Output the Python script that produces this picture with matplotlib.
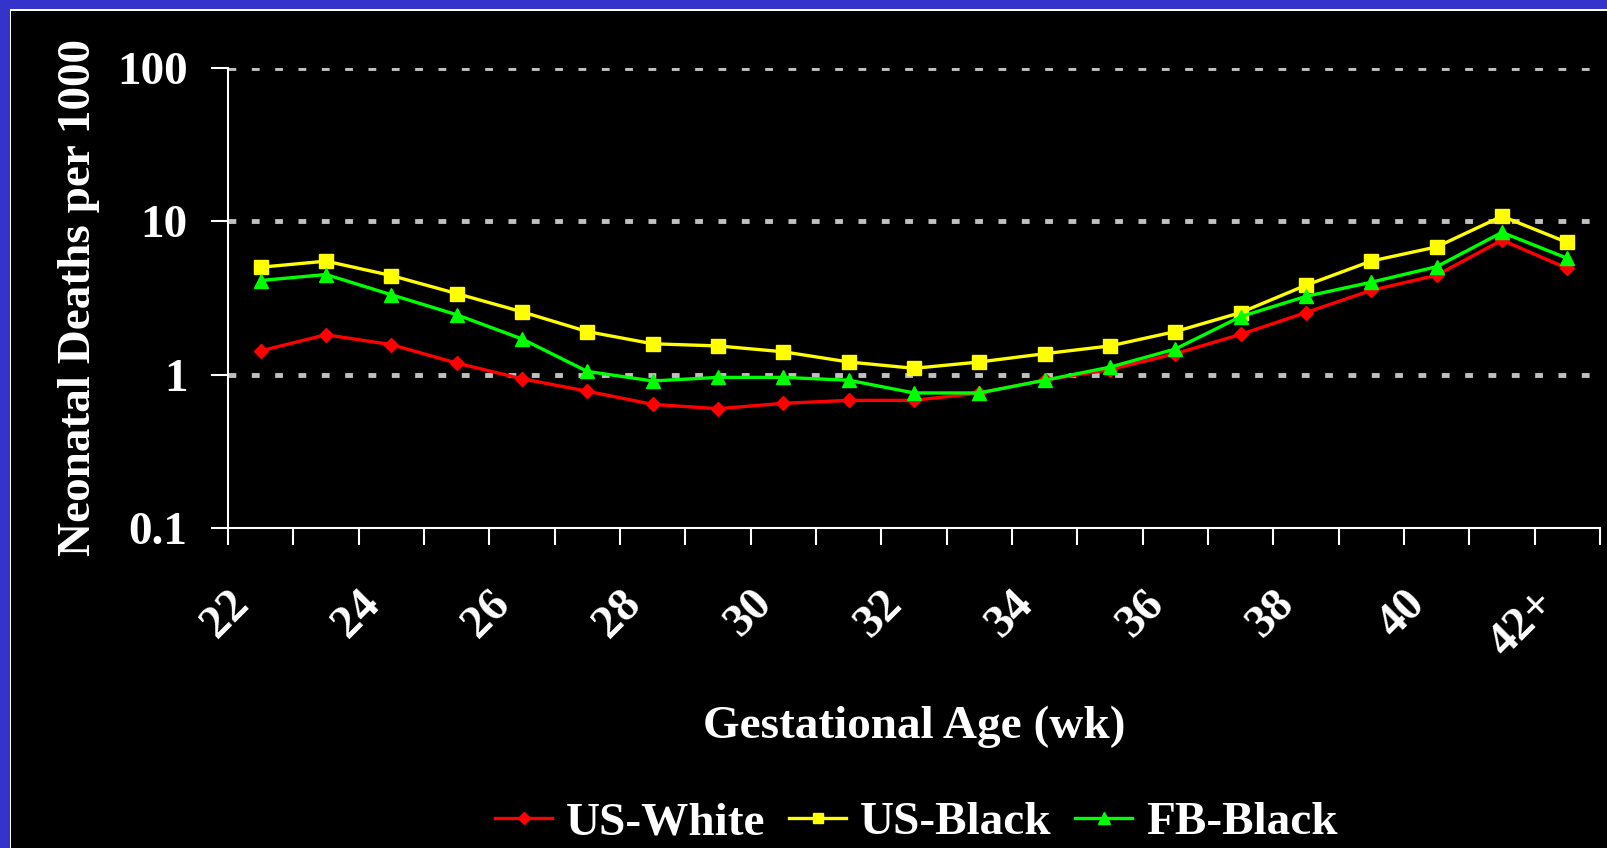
import numpy as np
import matplotlib
matplotlib.use("Agg")
import matplotlib.pyplot as plt
from matplotlib.patches import Rectangle
from matplotlib.ticker import NullLocator
from matplotlib.transforms import ScaledTranslation

# Gestational age categories (weeks)
weeks = ["22", "23", "24", "25", "26", "27", "28", "29", "30", "31", "32",
         "33", "34", "35", "36", "37", "38", "39", "40", "41", "42+"]

# Neonatal deaths per 1000
us_white = [1.43, 1.82, 1.57, 1.19, 0.94, 0.78, 0.64, 0.60, 0.65, 0.68, 0.68,
            0.76, 0.92, 1.08, 1.37, 1.83, 2.54, 3.55, 4.45, 7.54, 4.93]
us_black = [5.02, 5.50, 4.43, 3.38, 2.57, 1.91, 1.59, 1.54, 1.41, 1.21, 1.10,
            1.21, 1.37, 1.54, 1.91, 2.54, 3.83, 5.51, 6.81, 10.8, 7.28]
fb_black = [4.11, 4.50, 3.32, 2.46, 1.71, 1.05, 0.91, 0.96, 0.96, 0.92, 0.76,
            0.76, 0.92, 1.12, 1.47, 2.39, 3.24, 4.01, 5.06, 8.47, 5.74]

y_ticks = [0.1, 1, 10, 100]
y_tick_labels = ["0.1", "1", "10", "100"]
grid_levels = [1, 10, 100]

plt.rc("font", family="Liberation Serif", weight="bold", size=34)
plt.rc("axes", labelweight="bold")
plt.rc("text", color="white")

fig = plt.figure(figsize=(16.08, 8.48), dpi=100, facecolor="black")

# Blue slide border on the top and left edges, with a thin white rule
fig.patches.append(Rectangle((0, 0), 1, 1, transform=fig.transFigure,
                             facecolor="#3434CB", edgecolor="none", zorder=-3))
fig.patches.append(Rectangle((10 / 1608, 0), 1, 1 - 9 / 848, transform=fig.transFigure,
                             facecolor="white", edgecolor="none", zorder=-2))
fig.patches.append(Rectangle((11 / 1608, 0), 1, 1 - 11 / 848, transform=fig.transFigure,
                             facecolor="black", edgecolor="none", zorder=-1))

ax = fig.add_axes([228 / 1608, 1 - 528 / 848, 1372 / 1608, 460 / 848])
ax.set_facecolor("black")

# dotted grey gridlines at 1, 10 and 100 only
for lvl in grid_levels:
    ax.axhline(lvl, color="#C0C0C0", lw=3.5, linestyle=(0, (1.6, 3.2)), zorder=0)

x = np.arange(len(weeks))
ax.plot(x, us_white, color="#FF0000", marker="D", ms=7.5, lw=2.4, label="US-White")
ax.plot(x, us_black, color="#FFFF00", marker="s", ms=9.5, lw=2.4, label="US-Black")
ax.plot(x, fb_black, color="#00FF00", marker="^", ms=10.5, lw=2.4, label="FB-Black")

ax.set_yscale("log")
ax.set_ylim(0.1, 100)
ax.set_xlim(-0.5, len(weeks) - 0.5)

ax.set_yticks(y_ticks)
ax.set_yticklabels(y_tick_labels)
ax.yaxis.set_minor_locator(NullLocator())
ax.tick_params(axis="y", colors="white", length=12, width=1.5, pad=17)

# Category boundaries get tick marks, every other category gets a label
ax.set_xticks(np.arange(-0.5, len(weeks), 1))
ax.set_xticklabels([])
ax.set_xticks(x[::2], [weeks[i] for i in x[::2]], minor=True)
ax.tick_params(axis="x", which="major", colors="white", length=12, width=1.5)
ax.tick_params(axis="x", which="minor", length=0, pad=50, labelcolor="white")
shift = ScaledTranslation(-18 / 100, 0, fig.dpi_scale_trans)
for lbl in ax.get_xticklabels(minor=True):
    lbl.set_rotation(45)
    lbl.set_rotation_mode("anchor")
    lbl.set_ha("right")
    lbl.set_va("center")
    lbl.set_transform(lbl.get_transform() + shift)

for side in ["top", "right"]:
    ax.spines[side].set_visible(False)
for side in ["left", "bottom"]:
    ax.spines[side].set_color("white")
    ax.spines[side].set_linewidth(1.5)

ax.set_ylabel("Neonatal Deaths per 1000", color="white", fontweight="bold")
ax.yaxis.set_label_coords(-0.093, 0.5)
ax.set_xlabel("Gestational Age (wk)", color="white", fontweight="bold")
ax.xaxis.set_label_coords(0.5, -0.385)

fig.legend(loc="center", bbox_to_anchor=(0.57, 0.03), ncol=3, frameon=False,
           handlelength=1.2, handletextpad=0.3, columnspacing=0.5, markerscale=0.8,
           labelcolor="white")

fig.savefig("out.png", dpi=100, facecolor="black")
